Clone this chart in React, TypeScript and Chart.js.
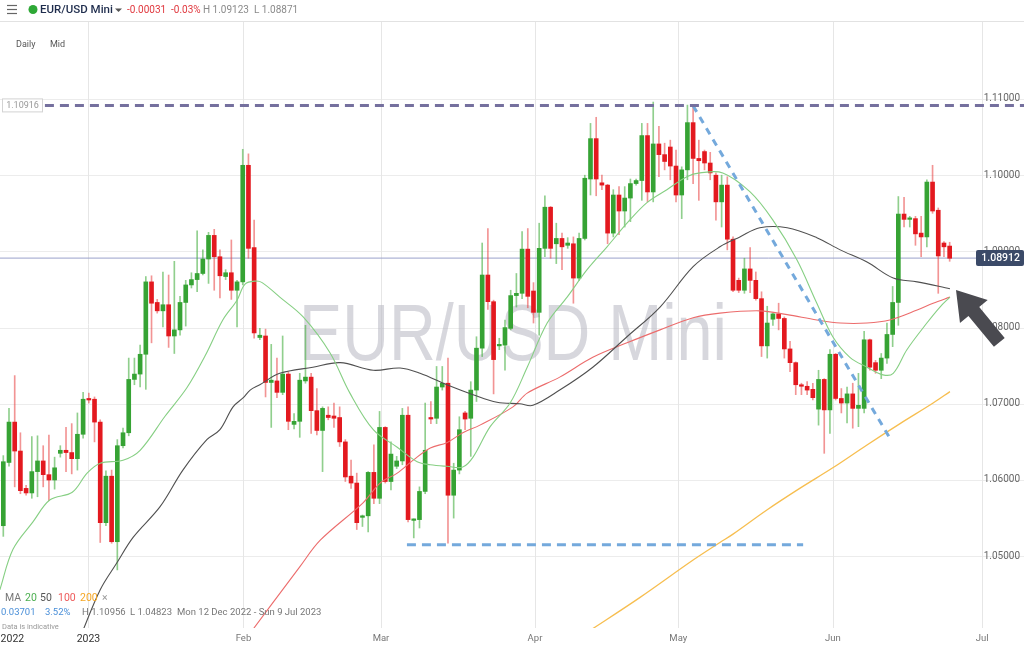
import React, { useEffect, useRef } from 'react';
import { Chart, registerables } from 'chart.js';

Chart.register(...registerables);

// Daily candles (index 0 = mid-Dec 2022, index 15 = 1 Jan 2023, one slot per trading session)
const openP = [
  1.0540, 1.0623, 1.0676, 1.0638, 1.0589, 1.0583, 1.0611, 1.0625, 1.0607, 1.0600,
  1.0635, 1.0639, 1.0636, 1.0628, 1.0660, 1.0707, 1.0706, 1.0676, 1.0544, 1.0605,
  1.0519, 1.0645, 1.0662, 1.0732, 1.0739, 1.0765, 1.0860, 1.0833, 1.0822, 1.0830,
  1.0789, 1.0797, 1.0833, 1.0856, 1.0863, 1.0871, 1.0890, 1.0921, 1.0893, 1.0867,
  1.0872, 1.0849, 1.0860, 1.1013, 1.0905, 1.0787, 1.0789, 1.0728, 1.0730, 1.0715,
  1.0739, 1.0673, 1.0677, 1.0730, 1.0735, 1.0691, 1.0665, 1.0685, 1.0684, 1.0682,
  1.0650, 1.0605, 1.0596, 1.0551, 1.0553, 1.0610, 1.0576, 1.0669, 1.0598, 1.0618,
  1.0625, 1.0685, 1.0547, 1.0548, 1.0585, 1.0682, 1.0681, 1.0722, 1.0727, 1.0580,
  1.0613, 1.0688, 1.0681, 1.0718, 1.0773, 1.0869, 1.0834, 1.0776, 1.0777, 1.0799,
  1.0842, 1.0845, 1.0903, 1.0848, 1.0820, 1.0904, 1.0958, 1.0910, 1.0917, 1.0908,
  1.0910, 1.0865, 1.0917, 1.0995, 1.1048, 1.0990, 1.0987, 1.0924, 1.0974, 1.0953,
  1.0970, 1.0989, 1.0993, 1.1052, 1.0978, 1.1041, 1.1027, 1.1037, 1.1012, 1.0974,
  1.1007, 1.1069, 1.1022, 1.1031, 1.1016, 1.1000, 1.0965, 1.0987, 1.0916, 1.0862,
  1.0849, 1.0877, 1.0862, 1.0838, 1.0776, 1.0811, 1.0818, 1.0812, 1.0772, 1.0754,
  1.0725, 1.0723, 1.0719, 1.0693, 1.0732, 1.0692, 1.0765, 1.0707, 1.0701, 1.0713,
  1.0694, 1.0694, 1.0784, 1.0754, 1.0744, 1.0760, 1.0791, 1.0833, 1.0949, 1.0942,
  1.0943, 1.0924, 1.0919, 1.0991, 1.0954, 1.0911, 1.0907,
];
const highP = [
  1.0632, 1.0694, 1.0737, 1.0662, 1.0593, 1.0657, 1.0658, 1.0645, 1.0659, 1.0630,
  1.0645, 1.0669, 1.0674, 1.0688, 1.0715, 1.0714, 1.0709, 1.0679, 1.0612, 1.0613,
  1.0653, 1.0668, 1.0760, 1.0760, 1.0777, 1.0867, 1.0868, 1.0837, 1.0873, 1.0869,
  1.0887, 1.0841, 1.0862, 1.0872, 1.0927, 1.0902, 1.0925, 1.0929, 1.0902, 1.0876,
  1.0915, 1.0862, 1.1034, 1.1028, 1.0941, 1.0799, 1.0798, 1.0778, 1.0760, 1.0789,
  1.0742, 1.0687, 1.0740, 1.0803, 1.0740, 1.0720, 1.0696, 1.0696, 1.0701, 1.0696,
  1.0653, 1.0626, 1.0609, 1.0554, 1.0611, 1.0646, 1.0690, 1.0670, 1.0650, 1.0631,
  1.0694, 1.0696, 1.0549, 1.0591, 1.0701, 1.0703, 1.0749, 1.0749, 1.0760, 1.0622,
  1.0683, 1.0690, 1.0729, 1.0788, 1.0911, 1.0930, 1.0836, 1.0786, 1.0810, 1.0849,
  1.0871, 1.0926, 1.0930, 1.0859, 1.0937, 1.0973, 1.0959, 1.0937, 1.0924, 1.0918,
  1.0919, 1.0924, 1.1000, 1.1068, 1.1076, 1.1000, 1.0988, 1.0981, 1.0985, 1.0985,
  1.0995, 1.0995, 1.1068, 1.1068, 1.1096, 1.1064, 1.1042, 1.1046, 1.1033, 1.1011,
  1.1092, 1.1092, 1.1046, 1.1033, 1.1030, 1.1003, 1.1000, 1.0998, 1.0919, 1.0865,
  1.0891, 1.0905, 1.0873, 1.0847, 1.0828, 1.0819, 1.0832, 1.0814, 1.0782, 1.0755,
  1.0727, 1.0729, 1.0727, 1.0744, 1.0733, 1.0771, 1.0766, 1.0720, 1.0722, 1.0727,
  1.0740, 1.0795, 1.0785, 1.0757, 1.0766, 1.0806, 1.0854, 1.0972, 1.0971, 1.0946,
  1.0946, 1.0946, 1.0994, 1.1013, 1.0957, 1.0913, 1.0912,
];
const lowP = [
  1.0526, 1.0618, 1.0591, 1.0582, 1.0580, 1.0576, 1.0578, 1.0591, 1.0573, 1.0588,
  1.0630, 1.0611, 1.0608, 1.0613, 1.0655, 1.0701, 1.0650, 1.0518, 1.0540, 1.0517,
  1.0482, 1.0642, 1.0658, 1.0725, 1.0722, 1.0719, 1.0780, 1.0819, 1.0801, 1.0774,
  1.0766, 1.0790, 1.0802, 1.0852, 1.0847, 1.0869, 1.0858, 1.0849, 1.0839, 1.0863,
  1.0837, 1.0801, 1.0856, 1.0891, 1.0786, 1.0784, 1.0709, 1.0669, 1.0708, 1.0712,
  1.0666, 1.0667, 1.0656, 1.0727, 1.0661, 1.0659, 1.0611, 1.0679, 1.0669, 1.0644,
  1.0598, 1.0589, 1.0535, 1.0539, 1.0532, 1.0569, 1.0569, 1.0596, 1.0587, 1.0615,
  1.0620, 1.0545, 1.0524, 1.0537, 1.0582, 1.0674, 1.0674, 1.0718, 1.0517, 1.0550,
  1.0608, 1.0666, 1.0631, 1.0703, 1.0762, 1.0824, 1.0713, 1.0771, 1.0744, 1.0797,
  1.0827, 1.0838, 1.0826, 1.0806, 1.0790, 1.0893, 1.0891, 1.0884, 1.0876, 1.0904,
  1.0832, 1.0862, 1.0915, 1.0974, 1.0973, 1.0981, 1.0910, 1.0919, 1.0922, 1.0932,
  1.0939, 1.0987, 1.0967, 1.0965, 1.0965, 1.0998, 1.1007, 1.0994, 1.0965, 1.0943,
  1.0994, 1.0989, 1.0967, 1.1007, 1.0994, 1.0941, 1.0932, 1.0902, 1.0847, 1.0846,
  1.0845, 1.0846, 1.0836, 1.0762, 1.0760, 1.0803, 1.0797, 1.0760, 1.0742, 1.0712,
  1.0712, 1.0712, 1.0705, 1.0672, 1.0635, 1.0661, 1.0705, 1.0688, 1.0675, 1.0668,
  1.0670, 1.0688, 1.0744, 1.0740, 1.0733, 1.0753, 1.0775, 1.0803, 1.0932, 1.0932,
  1.0908, 1.0893, 1.0906, 1.0950, 1.0845, 1.0893, 1.0887,
];
const closeP = [
  1.0624, 1.0676, 1.0638, 1.0586, 1.0583, 1.0611, 1.0625, 1.0607, 1.0600, 1.0616,
  1.0639, 1.0636, 1.0628, 1.0660, 1.0706, 1.0705, 1.0676, 1.0544, 1.0605, 1.0519,
  1.0645, 1.0662, 1.0732, 1.0739, 1.0765, 1.0860, 1.0832, 1.0822, 1.0830, 1.0789,
  1.0797, 1.0833, 1.0856, 1.0863, 1.0871, 1.0890, 1.0921, 1.0893, 1.0868, 1.0872,
  1.0849, 1.0860, 1.1013, 1.0904, 1.0793, 1.0790, 1.0728, 1.0731, 1.0715, 1.0739,
  1.0677, 1.0677, 1.0731, 1.0735, 1.0691, 1.0665, 1.0694, 1.0682, 1.0681, 1.0650,
  1.0604, 1.0596, 1.0544, 1.0553, 1.0610, 1.0576, 1.0669, 1.0598, 1.0634, 1.0625,
  1.0685, 1.0548, 1.0548, 1.0585, 1.0639, 1.0680, 1.0722, 1.0727, 1.0580, 1.0613,
  1.0666, 1.0680, 1.0718, 1.0773, 1.0869, 1.0834, 1.0758, 1.0778, 1.0800, 1.0842,
  1.0845, 1.0903, 1.0841, 1.0820, 1.0904, 1.0958, 1.0904, 1.0917, 1.0906, 1.0911,
  1.0865, 1.0917, 1.0996, 1.1048, 1.0995, 1.0987, 1.0924, 1.0974, 1.0953, 1.0970,
  1.0989, 1.0993, 1.1052, 1.0978, 1.1041, 1.1027, 1.1018, 1.1012, 1.0974, 1.1007,
  1.1069, 1.1022, 1.1019, 1.1016, 1.1003, 1.0965, 1.0987, 1.0916, 1.0849, 1.0849,
  1.0877, 1.0862, 1.0838, 1.0776, 1.0806, 1.0818, 1.0812, 1.0772, 1.0754, 1.0725,
  1.0723, 1.0718, 1.0708, 1.0732, 1.0692, 1.0765, 1.0707, 1.0701, 1.0713, 1.0694,
  1.0698, 1.0784, 1.0748, 1.0744, 1.0760, 1.0791, 1.0833, 1.0949, 1.0942, 1.0944,
  1.0923, 1.0919, 1.0991, 1.0953, 1.0894, 1.0906, 1.0891,
];

// Moving averages (session index, price)
const ma20Days = [-0.6, 1.7, 5.2, 8.2, 12.1, 14.7, 17, 21, 24, 28.4, 32.2, 35.4, 38.5, 41, 42.4, 44.2, 45.4, 48.5, 52.6, 57.3, 60.8, 64.9, 69.1, 72.6, 74.9, 77.8, 80.6, 82.4, 85.4, 88.9, 91.9, 95.4, 98.9, 102.4, 105.9, 109.4, 112.9, 116.4, 119.9, 122.2, 126.2, 131, 135, 139.2, 142.7, 145.5, 148.5, 151.5, 154.3, 156.1, 158.5, 162, 164.3, 166.05];
const ma20Vals = [1.0456, 1.0509, 1.0545, 1.0574, 1.0584, 1.0609, 1.0622, 1.0626, 1.0639, 1.0684, 1.0721, 1.0763, 1.0810, 1.0836, 1.0857, 1.0861, 1.0859, 1.0840, 1.0814, 1.0767, 1.0714, 1.0666, 1.0643, 1.0624, 1.0620, 1.0618, 1.0617, 1.0630, 1.0670, 1.0701, 1.0748, 1.0806, 1.0840, 1.0876, 1.0906, 1.0937, 1.0964, 1.0981, 1.0998, 1.1003, 1.1003, 1.0978, 1.0941, 1.0889, 1.0832, 1.0788, 1.0761, 1.0748, 1.0738, 1.0740, 1.0771, 1.0806, 1.0827, 1.0840];
const ma50Days = [13.5, 17, 19.9, 22.8, 27.5, 31.5, 35.7, 38, 40.3, 42.1, 43.3, 45, 48.5, 54.3, 59.1, 64.9, 69.6, 73.1, 77.8, 82.4, 86.6, 90.6, 92.9, 97.6, 103.4, 109.4, 115.2, 121, 125.7, 129.2, 132.7, 137.5, 142.7, 146.8, 151.5, 156.1, 160.3, 166.05];
const ma50Vals = [1.0394, 1.0456, 1.0491, 1.0525, 1.0565, 1.0613, 1.0653, 1.0666, 1.0696, 1.0708, 1.0718, 1.0725, 1.0740, 1.0748, 1.0754, 1.0744, 1.0747, 1.0740, 1.0725, 1.0712, 1.0702, 1.0700, 1.0698, 1.0718, 1.0748, 1.0788, 1.0827, 1.0880, 1.0906, 1.0919, 1.0931, 1.0931, 1.0918, 1.0902, 1.0886, 1.0865, 1.0860, 1.0851];
const ma100Days = [42.4, 52, 55.6, 63.1, 66.1, 69.1, 71.9, 74.9, 77.8, 80.6, 83.6, 89.4, 91.9, 97.6, 103.4, 109.4, 115.2, 121, 125.7, 132.7, 137.5, 142.7, 146.8, 151.5, 155.5, 160.3, 163.1, 166.05];
const ma100Vals = [1.0390, 1.0486, 1.0521, 1.0570, 1.0596, 1.0609, 1.0626, 1.0642, 1.0649, 1.0662, 1.0672, 1.0696, 1.0714, 1.0735, 1.0761, 1.0780, 1.0797, 1.0813, 1.0819, 1.0822, 1.0817, 1.0810, 1.0806, 1.0806, 1.0810, 1.0823, 1.0832, 1.0840];
const ma200Days = [102.6, 111.7, 121, 125.7, 128, 134, 139.7, 145.5, 151.5, 157.3, 163.1, 166.05];
const ma200Vals = [1.0401, 1.0446, 1.0495, 1.0518, 1.0529, 1.0561, 1.0589, 1.0616, 1.0646, 1.0674, 1.0701, 1.0716];

// Drawn annotations
const resistanceLevel = 1.10916;
const resistanceFrom = 7.3;
const supportLevel = 1.0515;
const supportDays = [70.8, 140.3];
const trendDays = [121, 155.5];
const trendVals = [1.1091, 1.0655];
const lastPrice = 1.08912;

// Axes
const priceTicks = [1.05, 1.06, 1.07, 1.08, 1.09, 1.10, 1.11];
const monthPos = [14.94, 42.13, 66.25, 93.26, 118.4, 145.5, 171.7];
const monthLabels = ['2023', 'Feb', 'Mar', 'Apr', 'May', 'Jun', 'Jul'];
const yearLabelPos = 1.6;
const yearLabel = '2022';

const GREEN = '#36a334';
const RED = '#e3191f';
const FONT = 'Roboto, "Liberation Sans", sans-serif';

const overlayPlugin = {
  id: 'overlay',
  beforeDraw(chart: any) {
    const { ctx, width, height } = chart;
    ctx.save();
    ctx.fillStyle = '#ffffff';
    ctx.fillRect(0, 0, width, height);
    ctx.restore();
  },
  beforeDatasetsDraw(chart: any) {
    const { ctx, chartArea, scales } = chart;
    const x = scales.x;
    const y = scales.y;
    ctx.save();
    ctx.lineWidth = 1;
    ctx.strokeStyle = '#ececec';
    priceTicks.forEach((v) => {
      const py = Math.round(y.getPixelForValue(v)) + 0.5;
      ctx.beginPath();
      ctx.moveTo(0, py);
      ctx.lineTo(chart.width, py);
      ctx.stroke();
    });
    ctx.strokeStyle = '#e6e6e6';
    monthPos.forEach((p) => {
      const px = Math.round(x.getPixelForValue(p)) + 0.5;
      ctx.beginPath();
      ctx.moveTo(px, chartArea.top);
      ctx.lineTo(px, chartArea.bottom);
      ctx.stroke();
    });
    // header separator
    ctx.strokeStyle = '#e2e2e2';
    ctx.beginPath();
    ctx.moveTo(0, chartArea.top + 0.5);
    ctx.lineTo(chart.width, chartArea.top + 0.5);
    ctx.stroke();
    // watermark (condensed to the reference width)
    ctx.fillStyle = 'rgba(188,188,198,0.6)';
    ctx.font = '80px "Liberation Sans", Arial, sans-serif';
    ctx.textAlign = 'center';
    ctx.textBaseline = 'alphabetic';
    const text = 'EUR/USD Mini';
    const w = ctx.measureText(text).width;
    const cx = (chartArea.left + chartArea.right) / 2 + 1;
    const cy = (chartArea.top + chartArea.bottom) / 2 + 35;
    ctx.translate(cx, cy);
    ctx.scale(428 / w, 1);
    ctx.fillText(text, 0, 0);
    ctx.restore();
  },
  afterDraw(chart: any) {
    const { ctx, scales } = chart;
    const x = scales.x;
    const y = scales.y;
    ctx.save();
    // right price labels
    ctx.font = `10px ${FONT}`;
    ctx.fillStyle = '#666';
    ctx.textAlign = 'right';
    ctx.textBaseline = 'middle';
    priceTicks.forEach((v) => {
      ctx.fillText(v.toFixed(5), 1020, y.getPixelForValue(v));
    });
    // last price box
    const lp = y.getPixelForValue(lastPrice);
    ctx.fillStyle = '#3b4a68';
    ctx.beginPath();
    ctx.roundRect(976, lp - 8, 48, 16, 2);
    ctx.fill();
    ctx.fillStyle = '#ffffff';
    ctx.font = `500 10.5px ${FONT}`;
    ctx.fillText(lastPrice.toFixed(5), 1020, lp + 0.5);
    // resistance label
    const rp = y.getPixelForValue(resistanceLevel);
    ctx.fillStyle = '#ffffff';
    ctx.strokeStyle = '#d3d3d3';
    ctx.lineWidth = 1;
    ctx.fillRect(2.5, rp - 6.5, 40, 13);
    ctx.strokeRect(2.5, rp - 6.5, 40, 13);
    ctx.fillStyle = '#999';
    ctx.font = `9px ${FONT}`;
    ctx.textAlign = 'center';
    ctx.fillText(resistanceLevel.toFixed(5), 22.5, rp + 0.5);
    // arrow
    const tx = 956, ty = 290;
    const ux = 0.637, uy = 0.77;
    const nx = 0.77, ny = -0.637;
    const bx = tx + 28 * ux, by = ty + 28 * uy;
    const ex = tx + 68 * ux, ey = ty + 68 * uy;
    ctx.fillStyle = '#4a4a50';
    ctx.beginPath();
    ctx.moveTo(tx, ty);
    ctx.lineTo(bx + 18 * nx, by + 18 * ny);
    ctx.lineTo(bx + 7 * nx, by + 7 * ny);
    ctx.lineTo(ex + 7 * nx, ey + 7 * ny);
    ctx.lineTo(ex - 7 * nx, ey - 7 * ny);
    ctx.lineTo(bx - 7 * nx, by - 7 * ny);
    ctx.lineTo(bx - 18 * nx, by - 18 * ny);
    ctx.closePath();
    ctx.fill();
    // header
    ctx.strokeStyle = '#666';
    ctx.lineWidth = 1.2;
    [5, 9, 13].forEach((hy) => {
      ctx.beginPath();
      ctx.moveTo(7, hy + 0.5);
      ctx.lineTo(17, hy + 0.5);
      ctx.stroke();
    });
    ctx.fillStyle = '#2ea836';
    ctx.beginPath();
    ctx.arc(33, 9.5, 4.5, 0, Math.PI * 2);
    ctx.fill();
    ctx.textAlign = 'left';
    ctx.textBaseline = 'middle';
    ctx.fillStyle = '#1f2d4d';
    ctx.font = `500 11.5px ${FONT}`;
    ctx.fillText('EUR/USD Mini', 40, 10);
    ctx.fillStyle = '#555';
    ctx.beginPath();
    ctx.moveTo(115, 8.5);
    ctx.lineTo(122, 8.5);
    ctx.lineTo(118.5, 12);
    ctx.closePath();
    ctx.fill();
    ctx.font = `10px ${FONT}`;
    ctx.fillStyle = '#e0383e';
    ctx.fillText('-0.00031', 127, 10);
    ctx.fillText('-0.03%', 171, 10);
    ctx.fillStyle = '#8a8a8a';
    ctx.fillText('H 1.09123  L 1.08871', 203, 10);
    ctx.fillStyle = '#555';
    ctx.font = `9px ${FONT}`;
    ctx.fillText('Daily', 16, 45);
    ctx.fillText('Mid', 50, 45);
    // MA legend
    ctx.font = `10.5px ${FONT}`;
    const legend: [string, string, number][] = [
      ['MA', '#777', 5], ['20', '#4caf50', 25], ['50', '#555', 40], ['100', '#ee5a5a', 58], ['200', '#f5a623', 80], ['×', '#999', 102],
    ];
    legend.forEach(([t, c, lx]) => {
      ctx.fillStyle = c;
      ctx.fillText(t, lx, 598);
    });
    ctx.font = `9.5px ${FONT}`;
    ctx.fillStyle = '#4a8fd8';
    ctx.fillText('0.03701', 1, 613);
    ctx.fillText('3.52%', 45, 613);
    ctx.fillStyle = '#777';
    ctx.fillText('H 1.10956', 82, 613);
    ctx.fillText('L 1.04823', 130, 613);
    ctx.fillText('Mon 12 Dec 2022 - Sun 9 Jul 2023', 177, 613);
    ctx.font = `7.5px ${FONT}`;
    ctx.fillStyle = '#999';
    ctx.fillText('Data is indicative', 2, 627);
    // x labels
    ctx.textAlign = 'center';
    ctx.font = `10.5px ${FONT}`;
    ctx.fillStyle = '#333';
    ctx.fillText(yearLabel, x.getPixelForValue(yearLabelPos), 639);
    monthPos.forEach((p, i) => {
      const isYear = /^\d+$/.test(monthLabels[i]);
      ctx.fillStyle = isYear ? '#333' : '#777';
      ctx.font = isYear ? `10.5px ${FONT}` : `9.5px ${FONT}`;
      ctx.fillText(monthLabels[i], x.getPixelForValue(p), 639);
    });
    ctx.restore();
  },
};

export default function App() {
  const canvasRef = useRef<HTMLCanvasElement | null>(null);

  useEffect(() => {
    const canvas = canvasRef.current;
    if (!canvas) return;
    const idx = openP.map((_, i) => i);
    const up = idx.map((i) => closeP[i] >= openP[i]);
    const bodies = idx.map((i) => ({ x: i, y: [openP[i], closeP[i]] }));
    const wicks = idx.map((i) => ({ x: i, y: [lowP[i], highP[i]] }));
    const pts = (d: number[], v: number[]) => d.map((dx, i) => ({ x: dx, y: v[i] }));

    const chart = new Chart(canvas, {
      type: 'bar',
      data: {
        datasets: [
          {
            type: 'line', data: [{ x: resistanceFrom, y: resistanceLevel }, { x: 180, y: resistanceLevel }],
            borderColor: '#75709e', borderWidth: 3, borderDash: [9, 6], pointRadius: 0,
          } as any,
          {
            type: 'line', data: pts(trendDays, trendVals),
            borderColor: '#74a9dc', borderWidth: 3, borderDash: [7, 6], pointRadius: 0,
          } as any,
          {
            type: 'line', data: supportDays.map((d) => ({ x: d, y: supportLevel })),
            borderColor: '#74a9dc', borderWidth: 3, borderDash: [9, 6], pointRadius: 0,
          } as any,
          {
            type: 'line', data: pts(ma20Days, ma20Vals), borderColor: '#86cf83', borderWidth: 1.1,
            pointRadius: 0, tension: 0.35,
          } as any,
          {
            type: 'line', data: pts(ma50Days, ma50Vals), borderColor: '#505050', borderWidth: 1.1,
            pointRadius: 0, tension: 0.35,
          } as any,
          {
            type: 'line', data: pts(ma100Days, ma100Vals), borderColor: '#ec6c6c', borderWidth: 1.1,
            pointRadius: 0, tension: 0.35,
          } as any,
          {
            type: 'line', data: pts(ma200Days, ma200Vals), borderColor: '#f7be4f', borderWidth: 1.3,
            pointRadius: 0, tension: 0.35,
          } as any,
          {
            type: 'bar', data: bodies, grouped: false, barThickness: 4, minBarLength: 1.5,
            backgroundColor: idx.map((i) => (up[i] ? GREEN : RED)), borderWidth: 0,
          } as any,
          {
            type: 'bar', data: wicks, grouped: false, barThickness: 1,
            backgroundColor: idx.map((i) => (up[i] ? 'rgba(70,175,65,0.6)' : 'rgba(232,60,60,0.55)')), borderWidth: 0,
          } as any,
          {
            type: 'line', data: [{ x: -1, y: lastPrice }, { x: 180, y: lastPrice }],
            borderColor: '#9aa2cc', borderWidth: 1, pointRadius: 0,
          } as any,
        ],
      },
      options: {
        responsive: false,
        animation: false,
        events: [],
        layout: { padding: { top: 21, bottom: 20, left: 0, right: 0 } },
        plugins: { legend: { display: false }, tooltip: { enabled: false } },
        scales: {
          x: { type: 'linear', min: -0.579, max: 179.04, display: false, offset: false },
          y: { type: 'linear', min: 1.040577, max: 1.120236, display: false },
        },
      },
      plugins: [overlayPlugin],
    } as any);
    return () => chart.destroy();
  }, []);

  return (
    <div style={{ position: 'absolute', left: 0, top: 0, width: 1024, height: 648, background: '#fff' }}>
      <canvas ref={canvasRef} width={1024} height={648} style={{ display: 'block', width: 1024, height: 648 }} />
    </div>
  );
}
